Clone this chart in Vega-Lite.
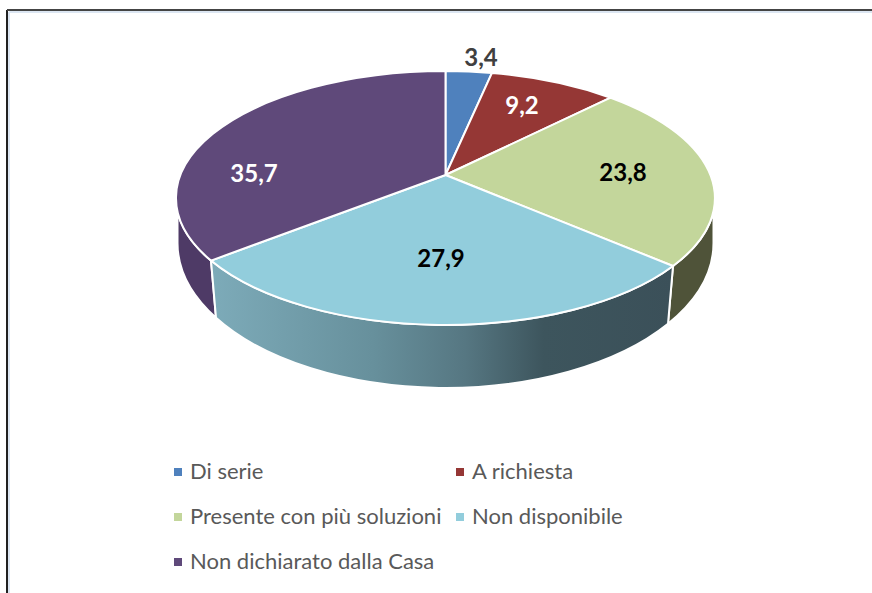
{"$schema":"https://vega.github.io/schema/vega-lite/v6.json","width":872,"height":593,"padding":0,"autosize":"none","background":"white","config":{"view":{"stroke":null},"locale":{"number":{"decimal":",","thousands":".","grouping":[3],"currency":["","€"]}}},"data":{"values":[{"categoria":"Di serie","valore":3.4},{"categoria":"A richiesta","valore":9.2},{"categoria":"Presente con più soluzioni","valore":23.8},{"categoria":"Non disponibile","valore":27.9},{"categoria":"Non dichiarato dalla Casa","valore":35.7}]},"resolve":{"scale":{"x":"independent","y":"independent","shape":"independent"}},"layer":[
{"mark":{"type":"rule","stroke":"#dce6f2","strokeWidth":2},"encoding":{"x":{"datum":-436.5,"type":"quantitative","scale":{"domain":[-445.5,426.5],"nice":false,"zero":false},"axis":null},"y":{"datum":-163,"type":"quantitative","scale":{"domain":[-175,418],"reverse":true,"nice":false,"zero":false},"axis":null},"y2":{"datum":418}}},
{"mark":{"type":"rule","stroke":"#dce6f2","strokeWidth":2},"encoding":{"x":{"datum":-436.5,"type":"quantitative","scale":{"domain":[-445.5,426.5],"nice":false,"zero":false},"axis":null},"x2":{"datum":426.5},"y":{"datum":-163,"type":"quantitative","scale":{"domain":[-175,418],"reverse":true,"nice":false,"zero":false},"axis":null}}},
{"mark":{"type":"rule","stroke":"#222222","strokeWidth":1.5},"encoding":{"x":{"datum":-438.5,"type":"quantitative","scale":{"domain":[-445.5,426.5],"nice":false,"zero":false},"axis":null},"y":{"datum":-165,"type":"quantitative","scale":{"domain":[-175,418],"reverse":true,"nice":false,"zero":false},"axis":null},"y2":{"datum":418}}},
{"mark":{"type":"rule","stroke":"#444444","strokeWidth":1.5},"encoding":{"x":{"datum":-438.5,"type":"quantitative","scale":{"domain":[-445.5,426.5],"nice":false,"zero":false},"axis":null},"x2":{"datum":426.5},"y":{"datum":-165,"type":"quantitative","scale":{"domain":[-175,418],"reverse":true,"nice":false,"zero":false},"axis":null}}},
{"transform":[{"filter":"datum.categoria === 'Presente con più soluzioni'"}],"mark":{"type":"point","filled":true,"opacity":1,"size":4,"fill":"#4f5339","stroke":"white","strokeWidth":2},"encoding":{"x":{"datum":0,"type":"quantitative","scale":{"domain":[-445.5,426.5],"nice":false,"zero":false},"axis":null},"y":{"datum":0,"type":"quantitative","scale":{"domain":[-175,418],"reverse":true,"nice":false,"zero":false},"axis":null},"shape":{"field":"categoria","type":"nominal","legend":null,"scale":{"domain":["Presente con più soluzioni"],"range":["M227.5,91 L222.5,148.8 A268,145 0 0 0 268,68 L268,36.4 A269.5,127 0 0 1 227.5,91 Z"]}}}},
{"transform":[{"filter":"datum.categoria === 'Non dichiarato dalla Casa'"}],"mark":{"type":"point","filled":true,"opacity":1,"size":4,"fill":"#4e3a66","stroke":"white","strokeWidth":2},"encoding":{"x":{"datum":0,"type":"quantitative","scale":{"domain":[-445.5,426.5],"nice":false,"zero":false},"axis":null},"y":{"datum":0,"type":"quantitative","scale":{"domain":[-175,418],"reverse":true,"nice":false,"zero":false},"axis":null},"shape":{"field":"categoria","type":"nominal","legend":null,"scale":{"domain":["Non dichiarato dalla Casa"],"range":["M-234.5,85.6 L-229.5,142.8 A268,145 0 0 1 -268,68 L-268,36.4 A269.5,127 0 0 0 -234.5,85.6 Z"]}}}},
{"transform":[{"filter":"datum.categoria === 'Non disponibile'"}],"mark":{"type":"point","filled":true,"opacity":1,"size":4,"fill":{"gradient":"linear","x1":0,"x2":1,"y1":0,"y2":0,"stops":[{"offset":0,"color":"#7dabb9"},{"offset":0.35,"color":"#67909c"},{"offset":0.55,"color":"#567782"},{"offset":0.72,"color":"#3d555d"},{"offset":1,"color":"#3b5059"}]},"stroke":"white","strokeWidth":2},"encoding":{"x":{"datum":0,"type":"quantitative","scale":{"domain":[-445.5,426.5],"nice":false,"zero":false},"axis":null},"y":{"datum":0,"type":"quantitative","scale":{"domain":[-175,418],"reverse":true,"nice":false,"zero":false},"axis":null},"shape":{"field":"categoria","type":"nominal","legend":null,"scale":{"domain":["Non disponibile"],"range":["M227.5,91 L222.5,148.8 A268,145 0 0 1 -229.5,142.8 L-234.5,85.6 A269.5,127 0 0 0 227.5,91 Z"]}}}},
{"mark":{"type":"point","filled":true,"opacity":1,"size":4,"stroke":"white","strokeWidth":2},"encoding":{"x":{"datum":0,"type":"quantitative","scale":{"domain":[-445.5,426.5],"nice":false,"zero":false},"axis":null},"y":{"datum":0,"type":"quantitative","scale":{"domain":[-175,418],"reverse":true,"nice":false,"zero":false},"axis":null},"shape":{"field":"categoria","type":"nominal","legend":null,"scale":{"domain":["Di serie","A richiesta","Presente con più soluzioni","Non disponibile","Non dichiarato dalla Casa"],"range":["M0,0 L0,-104 A269.5,127 0 0 1 46.5,-102.1 Z","M0,0 L46.5,-102.1 A269.5,127 0 0 1 165.2,-77.3 Z","M0,0 L165.2,-77.3 A269.5,127 0 0 1 227.5,91 Z","M0,0 L227.5,91 A269.5,127 0 0 1 -234.5,85.6 Z","M0,0 L-234.5,85.6 A269.5,127 0 0 1 0,-104 Z"]}},"fill":{"field":"categoria","type":"nominal","sort":null,"scale":{"domain":["Di serie","A richiesta","Presente con più soluzioni","Non disponibile","Non dichiarato dalla Casa"],"range":["#4f81bd","#953735","#c3d69b","#92cddc","#5f497a"]},"legend":{"title":null,"orient":"none","direction":"horizontal","legendX":167,"legendY":461,"columns":2,"symbolType":"square","symbolSize":64,"symbolStrokeWidth":0,"symbolStrokeColor":"transparent","labelFont":"Lato","labelFontSize":22,"labelColor":"#595959","labelOffset":1,"rowPadding":23,"columnPadding":7,"labelLimit":400}}}},
{"mark":{"type":"text","font":"Lato","fontWeight":"bold","fontSize":24,"align":"center","baseline":"middle"},"encoding":{"x":{"field":"valore","type":"quantitative","scale":{"domain":[3.4,9.2,23.8,27.9,35.7],"range":[481,522,623,441,254],"nice":false,"zero":false},"axis":null},"y":{"field":"valore","type":"quantitative","scale":{"domain":[3.4,9.2,23.8,27.9,35.7],"range":[58.5,106.5,173.5,259.5,174.5],"nice":false,"zero":false},"axis":null},"text":{"field":"valore","type":"quantitative","format":".1f"},"color":{"value":"black","condition":[{"test":"datum.valore === 3.4","value":"#404040"},{"test":"datum.valore === 9.2 || datum.valore === 35.7","value":"white"}]}}}
]}
